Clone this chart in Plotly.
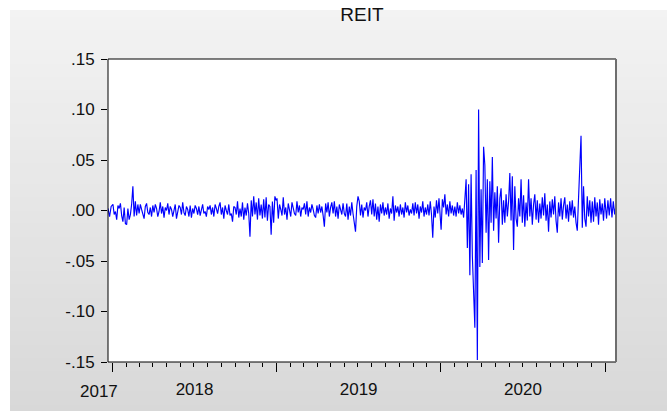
import numpy as np
import pandas as pd
import plotly.graph_objects as go

# Daily REIT returns, sampled every other trading day
ret_2017 = [0.002, -0.006, 0.004]

ret_2018 = [
    # Jan
    0.006, -0.004, -0.001, -0.009, 0.005, 0.002, 0.007, -0.005, -0.011, 0.003, -0.013,
    # Feb
    -0.014, 0.002, -0.009, -0.004, 0.006, 0.024, -0.006, 0.009, -0.005, 0.006, -0.003,
    # Mar
    0.006, 0.001, -0.005, -0.008, 0.004, 0.007, -0.002, -0.004, 0.003, -0.006, 0.005,
    # Apr
    -0.002, 0.006, 0.002, -0.006, -0.001, 0.008, -0.003, 0.004, -0.007, 0.003, 0.000,
    # May
    0.007, -0.004, 0.004, 0.001, -0.006, 0.002, 0.006, -0.008, -0.002, 0.005, 0.003,
    # Jun
    -0.004, 0.008, -0.002, -0.005, 0.004, 0.001, -0.006, 0.005, -0.007, 0.002, -0.003,
    # Jul
    0.005, 0.002, -0.004, 0.004, -0.005, 0.001, 0.006, -0.003, -0.001, -0.006, 0.004,
    # Aug
    0.001, 0.005, -0.004, 0.003, -0.006, 0.006, 0.002, -0.003, 0.004, 0.008, -0.004,
    # Sep
    0.003, -0.008, 0.005, 0.000, -0.004, 0.006, -0.005, -0.003, -0.011, 0.004, 0.003,
    # Oct
    -0.004, 0.009, -0.007, 0.002, -0.006, 0.008, -0.009, 0.003, -0.005, 0.007, -0.003,
    # Nov
    -0.026, 0.010, -0.006, 0.014, -0.004, 0.008, -0.009, 0.012, -0.005, 0.006, -0.008,
    # Dec
    0.011, -0.007, 0.013, -0.010, 0.006, 0.004, -0.024, 0.009, -0.012, 0.014, 0.010,
]

ret_2019 = [
    # Jan
    0.012, -0.008, 0.006, 0.001, -0.005, 0.013, -0.004, 0.003, -0.009, 0.007, -0.002,
    # Feb
    -0.006, 0.008, 0.002, -0.003, -0.005, 0.009, -0.002, 0.005, -0.006, 0.003, 0.001,
    # Mar
    0.007, -0.004, 0.009, -0.006, 0.003, -0.002, 0.006, 0.001, -0.005, -0.007, 0.005,
    # Apr
    -0.003, 0.006, -0.002, 0.004, -0.005, -0.016, 0.007, -0.002, 0.008, -0.006, 0.003,
    # May
    0.008, -0.003, 0.009, -0.006, 0.004, -0.008, 0.006, 0.001, -0.004, 0.007, -0.003,
    # Jun
    -0.006, 0.007, -0.009, 0.004, -0.005, 0.008, -0.003, -0.011, -0.021, 0.004, 0.014,
    # Jul
    0.009, -0.005, 0.006, -0.007, 0.003, 0.000, 0.008, -0.006, 0.004, 0.010, -0.004,
    # Aug
    0.011, -0.006, 0.007, -0.009, 0.004, -0.011, 0.006, -0.003, 0.008, -0.005, 0.003,
    # Sep
    -0.004, 0.007, -0.008, 0.002, -0.003, 0.014, -0.010, 0.005, -0.002, 0.004, -0.006,
    # Oct
    0.006, -0.004, 0.003, -0.007, 0.008, -0.002, 0.005, -0.005, 0.001, -0.003, 0.007,
    # Nov
    -0.005, 0.008, -0.003, 0.006, -0.008, 0.004, -0.002, 0.009, -0.006, 0.003, -0.004,
    # Dec
    0.006, -0.005, 0.009, -0.004, -0.027, 0.004, -0.007, 0.010, -0.003, 0.012, -0.008,
]

ret_2020 = [
    # Jan
    -0.019, 0.011, 0.003, 0.016, -0.004, 0.006, -0.006, 0.009, -0.003, 0.005, -0.005,
    # Feb
    0.004, -0.006, 0.008, -0.003, 0.005, -0.004, 0.002, -0.007, 0.011, 0.031, -0.037,
    # Mar
    0.026, -0.064, 0.036, -0.045, -0.090, -0.116, 0.040, -0.148, 0.100, -0.056, 0.021,
    # Apr
    -0.052, 0.063, 0.045, -0.022, 0.031, -0.049, 0.029, -0.012, 0.053, -0.020, 0.018,
    # May
    -0.008, 0.024, -0.032, 0.012, 0.022, -0.014, 0.010, -0.012, 0.016, -0.006, 0.009,
    # Jun
    0.037, -0.010, 0.034, -0.039, 0.024, -0.008, -0.016, 0.012, -0.006, 0.031, -0.012,
    # Jul
    0.015, -0.016, 0.008, -0.010, 0.031, -0.006, 0.012, -0.014, 0.006, 0.016, -0.009,
    # Aug
    0.010, -0.012, 0.007, -0.008, 0.013, -0.005, 0.017, -0.010, 0.006, -0.021, 0.009,
    # Sep
    -0.007, 0.011, -0.004, 0.014, -0.010, -0.022, 0.008, -0.006, 0.012, -0.009, 0.005,
    # Oct
    0.013, -0.008, 0.006, -0.011, 0.009, -0.005, 0.010, -0.007, 0.004, -0.012, -0.020,
    # Nov
    0.012, 0.037, 0.074, -0.017, 0.024, -0.008, -0.016, 0.014, -0.006, 0.010, -0.012,
    # Dec
    0.009, -0.011, 0.013, -0.006, 0.008, -0.014, 0.011, -0.004, 0.007, -0.010, 0.012,
]

ret_2021 = [-0.008, 0.010, -0.005, 0.012, -0.007, 0.009, -0.004, 0.006]

# (first, last) trading dates covered by each block
periods = [
    ("2017-12-22", "2017-12-29", ret_2017),
    ("2018-01-02", "2018-12-31", ret_2018),
    ("2019-01-02", "2019-12-31", ret_2019),
    ("2020-01-02", "2020-12-31", ret_2020),
    ("2021-01-04", "2021-01-25", ret_2021),
]

dates, values = [], []
for start, end, vals in periods:
    dates.extend(pd.date_range(start, end, periods=len(vals)))
    values.extend(vals)

y_ticks = [-0.15, -0.10, -0.05, 0.0, 0.05, 0.10, 0.15]
y_labels = ["-.15", "-.10", "-.05", ".00", ".05", ".10", ".15"]
first_label = "2017"

W, H = 667, 411
L, R, T, B = 108, 51, 59, 49
pw, ph = W - L - R, H - T - B

fig = go.Figure()
fig.add_trace(go.Scatter(
    x=dates, y=values, mode="lines",
    line=dict(color="#0000ff", width=1.15),
    showlegend=False, hoverinfo="skip",
))

# Gray panel with a soft vertical gradient, inset from the top-left corner
shapes = []
n_bands = 60
px0, py0 = 10, 10
for i in range(n_bands):
    f0 = i / n_bands
    f1 = (i + 1) / n_bands
    top_px = py0 + f0 * (H - py0)
    bot_px = py0 + f1 * (H - py0) + 1
    g = int(round(243 - (243 - 216) * (f0 + f1) / 2))
    shapes.append(dict(
        type="rect", xref="paper", yref="paper", layer="below",
        x0=(px0 - L) / pw, x1=(W - L) / pw,
        y0=(H - B - bot_px) / ph, y1=(H - B - top_px) / ph,
        fillcolor=f"rgb({g},{g},{g})", line=dict(width=0),
    ))
# white plotting area
shapes.append(dict(type="rect", xref="paper", yref="paper", layer="below",
                   x0=0, x1=1, y0=0, y1=1, fillcolor="white", line=dict(width=0)))
# frame: black on three sides, gray on the right
shapes.append(dict(type="rect", xref="paper", yref="paper", layer="above",
                   x0=0, x1=1, y0=0, y1=1, line=dict(color="black", width=1)))
shapes.append(dict(type="line", xref="paper", yref="paper", layer="above",
                   x0=1, x1=1, y0=0, y1=1, line=dict(color="#6e6e6e", width=2)))

fig.update_layout(
    width=W, height=H,
    margin=dict(l=L, r=R, t=T, b=B),
    paper_bgcolor="white",
    plot_bgcolor="white",
    shapes=shapes,
    font=dict(family="Liberation Sans, Arial, sans-serif", color="#111111"),
    title=dict(text="REIT", x=(L + pw / 2) / W, xanchor="center",
               y=1 - 14 / H, yanchor="middle",
               font=dict(size=19, color="#111111")),
    xaxis=dict(
        type="date",
        range=[dates[0], dates[-1]],
        showgrid=False, zeroline=False,
        showline=False,
        ticks="outside", ticklen=9, tickcolor="black", tickwidth=1,
        dtick="M12", tick0="2018-01-01",
        tickformat="%Y", ticklabelmode="period", ticklabelstandoff=3,
        tickfont=dict(size=17, color="#111111"),
        minor=dict(dtick="M1", tick0="2018-01-01", ticks="outside",
                   ticklen=4, tickcolor="black", showgrid=False),
    ),
    yaxis=dict(
        range=[-0.15, 0.15],
        showgrid=False, zeroline=False, showline=False,
        tickvals=y_ticks, ticktext=y_labels,
        ticks="outside", ticklen=6, tickcolor="black",
        ticklabelstandoff=3,
        tickfont=dict(size=17, color="#111111"),
    ),
    annotations=[dict(
        text=first_label, xref="x", yref="paper",
        x=dates[0], y=0, xanchor="center", yanchor="top",
        xshift=-9, yshift=-18, showarrow=False,
        font=dict(size=17, color="#111111"),
    )],
)

fig.write_html("out.html")
